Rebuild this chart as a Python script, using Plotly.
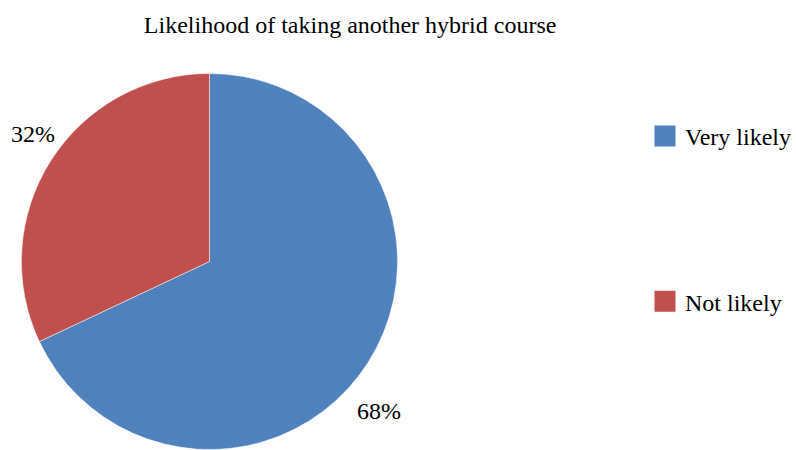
import math
import plotly.graph_objects as go

labels = ["Very likely", "Not likely"]
values = [68, 32]
colors = ["#4F81BD", "#C0504D"]
title_text = "Likelihood of taking another hybrid course"

W, H = 796, 450
FONT = "Liberation Serif, Times New Roman, serif"
FS = 24

# pie placement (layout/style)
dom_x = [21.5 / W, 398.5 / W]
dom_y = [0.0, 1 - 73 / H]
label_r = 1.16           # label distance as a fraction of radius
label_nudge = [(-15, 32), (8, -10)]  # (dx, dy) px per label, screen coords

fig = go.Figure()
fig.add_trace(go.Pie(
    labels=labels, values=values, sort=False, direction="clockwise", rotation=0,
    marker=dict(colors=colors, line=dict(color="rgba(255,255,255,0.6)", width=0.8)),
    textinfo="none",
    domain=dict(x=dom_x, y=dom_y),
    showlegend=False, hoverinfo="label+percent",
))

# percentage labels placed at slice mid-angles (computed from the values)
cx_px = (dom_x[0] + dom_x[1]) / 2 * W
cy_px = (1 - (dom_y[0] + dom_y[1]) / 2) * H
radius = min((dom_x[1] - dom_x[0]) * W, (dom_y[1] - dom_y[0]) * H) / 2
total = sum(values)
cum = 0
for v, (nx, ny) in zip(values, label_nudge):
    mid = (cum + v / 2) / total * 2 * math.pi
    cum += v
    px = cx_px + math.sin(mid) * radius * label_r + nx
    py = cy_px - math.cos(mid) * radius * label_r + ny
    fig.add_annotation(
        x=px / W, y=1 - py / H, xref="paper", yref="paper",
        xanchor="center", yanchor="middle",
        text=f"{round(v / total * 100)}%", showarrow=False,
        font=dict(family=FONT, size=FS, color="#000000"),
    )

for lab, col in zip(labels, colors):
    fig.add_trace(go.Scatter(
        x=[None], y=[None], mode="markers", name=lab, legendgroup=lab,
        marker=dict(symbol="square", size=16, color=col, line=dict(color=col, width=5)),
        showlegend=True,
    ))

fig.update_layout(
    width=W, height=H,
    margin=dict(l=0, r=0, t=0, b=0),
    paper_bgcolor="white", plot_bgcolor="white",
    title=dict(text=title_text, x=351 / W, xanchor="center", y=1 - 25 / H, yanchor="middle",
               xref="paper", yref="container",
               font=dict(family=FONT, size=FS, color="#000000")),
    font=dict(family=FONT, size=FS, color="#000000"),
    xaxis=dict(visible=False), yaxis=dict(visible=False),
    legend=dict(x=647 / W, xanchor="left", y=1 - 114 / H, yanchor="top",
                tracegroupgap=131, font=dict(family=FONT, size=FS, color="#000000"),
                itemclick=False, itemdoubleclick=False, bgcolor="rgba(0,0,0,0)"),
)

fig.write_html("out.html", config={"displayModeBar": False},
               post_script="document.body.style.margin='0';")
